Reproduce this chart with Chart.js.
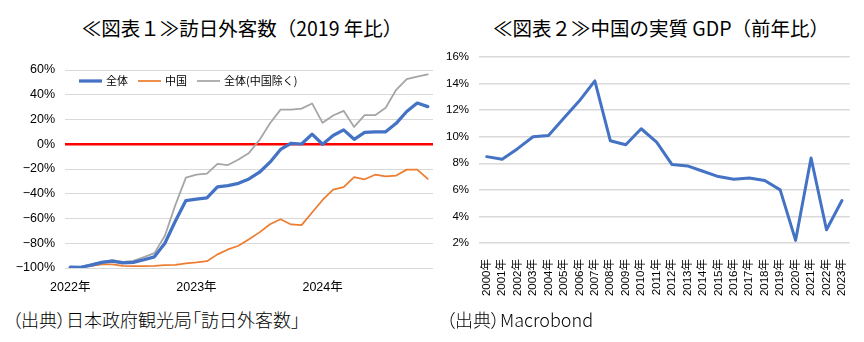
<!DOCTYPE html>
<html lang="ja">
<head>
<meta charset="utf-8">
<title>訪日外客数と中国の実質GDP</title>
<script src="https://cdn.jsdelivr.net/npm/chart.js@4.4.1/dist/chart.umd.min.js"></script>
<style>
  html, body { margin: 0; padding: 0; background: #fff; }
  body {
    width: 864px; height: 342px; position: relative; overflow: hidden;
    font-family: "Noto Sans CJK JP", "Liberation Sans", sans-serif; color: #000;
  }
  .title {
    position: absolute; top: 18px; font-size: 19.5px; line-height: 1;
    white-space: nowrap; transform: translateX(-50%);
  }
  .source {
    position: absolute; top: 310px; font-size: 18px; line-height: 1;
    font-weight: 300; white-space: nowrap; font-feature-settings: "palt";
  }
  canvas { position: absolute; }
</style>
</head>
<body>
<div class="title" style="left:242px">≪図表１≫訪日外客数（2019 年比）</div>
<div class="title" style="left:661px">≪図表２≫中国の実質 GDP（前年比）</div>
<canvas id="visitors" width="445" height="250" style="left:0;top:50px"></canvas>
<canvas id="gdp" width="424" height="265" style="left:440px;top:40px"></canvas>
<div class="source" style="left:12px">（出典）日本政府観光局「訪日外客数」</div>
<div class="source" style="left:446px">（出典）Macrobond</div>
<script>
// 訪日外客数 2019年同月比（%）
const months = [
  '2022-01', '2022-02', '2022-03', '2022-04', '2022-05', '2022-06',
  '2022-07', '2022-08', '2022-09', '2022-10', '2022-11', '2022-12',
  '2023-01', '2023-02', '2023-03', '2023-04', '2023-05', '2023-06',
  '2023-07', '2023-08', '2023-09', '2023-10', '2023-11', '2023-12',
  '2024-01', '2024-02', '2024-03', '2024-04', '2024-05', '2024-06',
  '2024-07', '2024-08', '2024-09', '2024-10', '2024-11'
];
const visitorsTotal = [
  -99.3, -99.4, -97.7, -95.5, -94.4, -95.8, -95.4, -93.3, -91.0, -80.0, -62.0, -45.5,
  -44.3, -43.4, -34.4, -33.4, -31.6, -28.0, -22.6, -14.5, -4.2, 0.8, 0.2, 8.2,
  0.0, 7.1, 11.6, 4.0, 9.6, 9.9, 10.1, 16.9, 26.5, 33.3, 30.4
];
const visitorsChina = [
  -99.5, -99.2, -98.2, -97.0, -97.1, -98.2, -98.4, -98.4, -98.2, -97.6, -97.4, -96.2,
  -95.5, -94.5, -89.0, -85.0, -82.0, -76.8, -71.2, -64.6, -60.6, -64.8, -65.4, -55.2,
  -45.0, -36.7, -34.6, -26.6, -28.3, -24.6, -25.9, -25.3, -20.5, -20.5, -28.0
];
const visitorsExChina = [
  -99.2, -99.0, -96.8, -95.0, -93.6, -95.0, -94.2, -91.2, -88.0, -74.0, -49.0, -27.0,
  -24.6, -23.8, -15.8, -16.8, -12.3, -7.0, 3.5, 17.0, 28.0, 28.0, 28.8, 33.0,
  17.3, 23.2, 27.0, 14.0, 23.5, 23.5, 29.5, 44.0, 52.7, 54.6, 56.5
];

// 中国の実質GDP成長率（前年比、%）
const gdpYears = [
  '2000年', '2001年', '2002年', '2003年', '2004年', '2005年', '2006年', '2007年',
  '2008年', '2009年', '2010年', '2011年', '2012年', '2013年', '2014年', '2015年',
  '2016年', '2017年', '2018年', '2019年', '2020年', '2021年', '2022年', '2023年'
];
const gdpGrowth = [
  8.5, 8.3, 9.1, 10.0, 10.1, 11.4, 12.7, 14.2, 9.7, 9.4, 10.6, 9.6,
  7.9, 7.8, 7.4, 7.0, 6.8, 6.9, 6.7, 6.0, 2.2, 8.4, 3.0, 5.2
];

const BLUE = '#4472C4';
const ORANGE = '#ED7D31';
const GRAY = '#A5A5A5';
const GRID = '#D9D9D9';
const NUM_FONT = '"Liberation Sans", "Noto Sans CJK JP", sans-serif';

Chart.defaults.font.family = NUM_FONT;
Chart.defaults.color = '#000';

// legend drawn inside the plot area, top-left
const insideLegend = {
  id: 'insideLegend',
  afterDatasetsDraw(chart, args, opts) {
    const { ctx, chartArea } = chart;
    let x = chartArea.left + opts.x;
    const y = chartArea.top + opts.y;
    ctx.save();
    ctx.font = opts.font;
    ctx.textBaseline = 'middle';
    chart.data.datasets.forEach(ds => {
      ctx.strokeStyle = ds.borderColor;
      ctx.lineWidth = ds.borderWidth;
      ctx.beginPath();
      ctx.moveTo(x, y);
      ctx.lineTo(x + opts.sample, y);
      ctx.stroke();
      x += opts.sample + opts.gap;
      ctx.fillStyle = '#000';
      ctx.fillText(ds.label, x, y);
      x += ctx.measureText(ds.label).width + opts.spacing;
    });
    ctx.restore();
  }
};

new Chart(document.getElementById('visitors'), {
  type: 'line',
  data: {
    labels: months,
    datasets: [
      { label: '全体', data: visitorsTotal, borderColor: BLUE, borderWidth: 3.25 },
      { label: '中国', data: visitorsChina, borderColor: ORANGE, borderWidth: 1.75 },
      { label: '全体(中国除く)', data: visitorsExChina, borderColor: GRAY, borderWidth: 1.75 }
    ]
  },
  options: {
    responsive: false,
    animation: false,
    devicePixelRatio: 1,
    elements: {
      point: { radius: 0 },
      line: { tension: 0, borderJoinStyle: 'round', borderCapStyle: 'round' }
    },
    layout: { padding: { left: 0, right: 12, top: 20, bottom: 0 } },
    plugins: {
      legend: { display: false },
      tooltip: { enabled: false },
      insideLegend: { x: 14, y: 11, sample: 23, gap: 4, spacing: 10, font: '11px "Noto Sans CJK JP", sans-serif' }
    },
    scales: {
      x: {
        offset: true,
        grid: { display: false },
        border: { display: false },
        ticks: {
          autoSkip: false, maxRotation: 0, padding: 4,
          font: { size: 12.5 },
          callback: (v, i) => months[i].endsWith('-01') ? months[i].slice(0, 4) + '年' : ''
        },
        afterFit(scale) { scale.height = 32; }
      },
      y: {
        min: -100, max: 60,
        ticks: {
          stepSize: 20, padding: 10,
          font: { size: 12.5 },
          callback: v => (v < 0 ? '−' + Math.abs(v) : v) + '%'
        },
        grid: {
          drawTicks: false,
          color: c => c.tick.value === 0 ? '#FF0000' : GRID,
          lineWidth: c => c.tick.value === 0 ? 2.5 : 1
        },
        border: { display: false },
        afterFit(scale) { scale.width = 65; }
      }
    }
  },
  plugins: [insideLegend]
});

new Chart(document.getElementById('gdp'), {
  type: 'line',
  data: {
    labels: gdpYears,
    datasets: [
      { label: '実質GDP', data: gdpGrowth, borderColor: BLUE, borderWidth: 3 }
    ]
  },
  options: {
    responsive: false,
    animation: false,
    devicePixelRatio: 1,
    elements: {
      point: { radius: 0 },
      line: { tension: 0, borderJoinStyle: 'round', borderCapStyle: 'round' }
    },
    layout: { padding: { left: 0, right: 12, top: 17, bottom: 0 } },
    plugins: { legend: { display: false }, tooltip: { enabled: false } },
    scales: {
      x: {
        offset: true,
        grid: { display: false },
        border: { display: false },
        ticks: { autoSkip: false, minRotation: 90, maxRotation: 90, padding: 8, font: { size: 11.5 } },
        afterFit(scale) { scale.height = 62; }
      },
      y: {
        min: 2, max: 16,
        ticks: { stepSize: 2, padding: 10, font: { size: 11.5 }, callback: v => v + '%' },
        grid: { drawTicks: false, color: GRID, lineWidth: 1.5 },
        border: { display: false },
        afterFit(scale) { scale.width = 39; }
      }
    }
  }
});
</script>
</body>
</html>
